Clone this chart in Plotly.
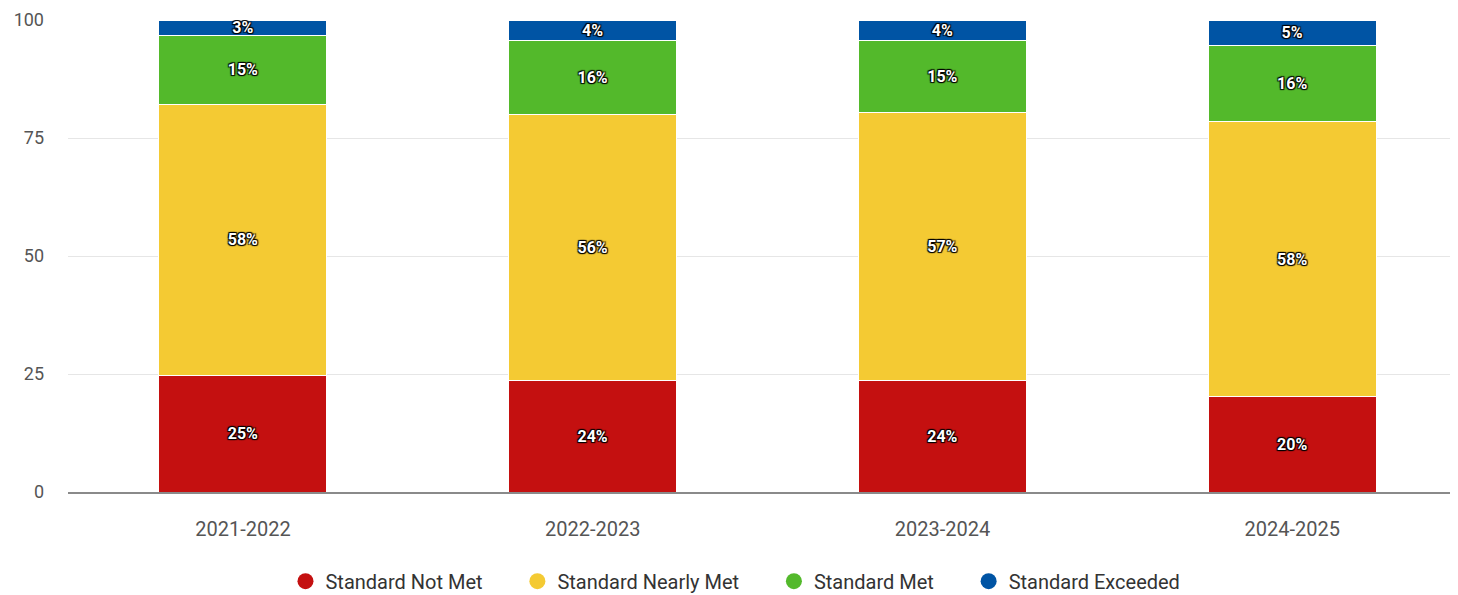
import plotly.graph_objects as go

years = ["2021-2022", "2022-2023", "2023-2024", "2024-2025"]
not_met = [24.6, 23.6, 23.6, 20.2]
nearly_met = [57.6, 56.3, 56.8, 58.3]
met = [14.6, 15.7, 15.2, 16.1]
exceeded = [3.2, 4.4, 4.4, 5.4]

series_names = ["Standard Not Met", "Standard Nearly Met", "Standard Met", "Standard Exceeded"]
series_values = [not_met, nearly_met, met, exceeded]
colors = ["#C41010", "#F4CA33", "#53B92B", "#0054A4"]

y_ticks = [0, 25, 50, 75, 100]

PAD = "\u00a0" * 6

fig = go.Figure()
for name, vals, col in zip(series_names, series_values, colors):
    fig.add_trace(go.Bar(
        x=years, y=vals, name=name, showlegend=False,
        marker=dict(color=col, line=dict(color="white", width=1)),
        texttemplate="%{y:.0f}%", textposition="inside", insidetextanchor="middle",
        constraintext="none", textangle=0,
        textfont=dict(family="Roboto", size=16, color="white", weight="bold",
                      shadow="1px 1px 1px #000, -1px -1px 1px #000, 1px -1px 1px #000, -1px 1px 1px #000"),
        hoverinfo="skip",
    ))
    fig.add_trace(go.Scatter(
        x=[None], y=[None], mode="markers", name=name + PAD,
        marker=dict(color=col, size=16, symbol="circle"),
    ))

fig.update_layout(
    barmode="stack",
    bargap=0.52,
    width=1450, height=587,
    margin=dict(l=60, r=0, t=12, b=103, autoexpand=False),
    paper_bgcolor="white", plot_bgcolor="white",
    font=dict(family="Roboto", size=17, color="#444"),
    legend=dict(orientation="h", x=0.491, xanchor="center", y=-0.189, yanchor="middle",
                traceorder="normal",
                font=dict(size=20, color="#333"), itemclick=False),
    xaxis=dict(range=[-0.5, 3.474], showgrid=False, showline=True, linecolor="#8a8a8a",
               linewidth=1.5, tickfont=dict(size=20, color="#555"), ticklabelstandoff=18,
               fixedrange=True),
    yaxis=dict(range=[0, 100], tickvals=y_ticks, showgrid=True, gridcolor="#e6e6e6",
               zeroline=False, tickfont=dict(size=18, color="#555"), ticklabelstandoff=23,
               fixedrange=True),
)

fig.write_html("out.html")
